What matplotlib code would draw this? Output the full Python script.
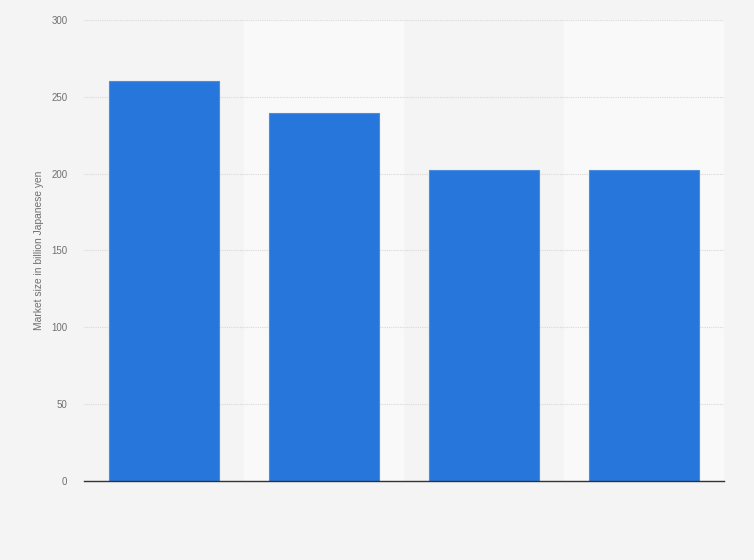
import numpy as np
from matplotlib import pyplot as plt

plt.rcParams["font.family"] = ["Liberation Sans", "DejaVu Sans"]

categories = ["A", "B", "C", "D"]
market_size = [260.5, 239.5, 202.5, 202.5]
y_ticks = [0, 50, 100, 150, 200, 250, 300]

fig = plt.figure(figsize=(7.54, 5.6), dpi=100)
fig.patch.set_facecolor("#f4f4f4")
ax = fig.add_axes([0.1114, 0.1411, 0.8488, 0.8232])
ax.set_facecolor("#f4f4f4")

x = np.arange(len(categories))
for i in x:
    if i % 2 == 1:
        ax.axvspan(i - 0.5, i + 0.5, color="#f9f9f9", zorder=0, lw=0)

ax.bar(x, market_size, width=0.69, color="#2776db", edgecolor="#4a8de3",
       linewidth=0.8, zorder=3)

ax.set_xlim(-0.5, len(categories) - 0.5)
ax.set_ylim(0, 300)
ax.set_yticks(y_ticks)
ax.set_xticks([])
ax.yaxis.grid(True, linestyle=(0, (1, 1)), color="#d8d8d8", linewidth=0.8, zorder=1)
ax.tick_params(axis="y", length=0, pad=12, labelsize=7, labelcolor="#707070")

for s in ["top", "right", "left"]:
    ax.spines[s].set_visible(False)
ax.spines["bottom"].set_color("#333333")
ax.spines["bottom"].set_linewidth(1.0)
ax.spines["bottom"].set_zorder(4)

ax.set_ylabel("Market size in billion Japanese yen", fontsize=7.4, color="#707070", labelpad=5)

plt.savefig("out.png", dpi=100, facecolor=fig.get_facecolor())
